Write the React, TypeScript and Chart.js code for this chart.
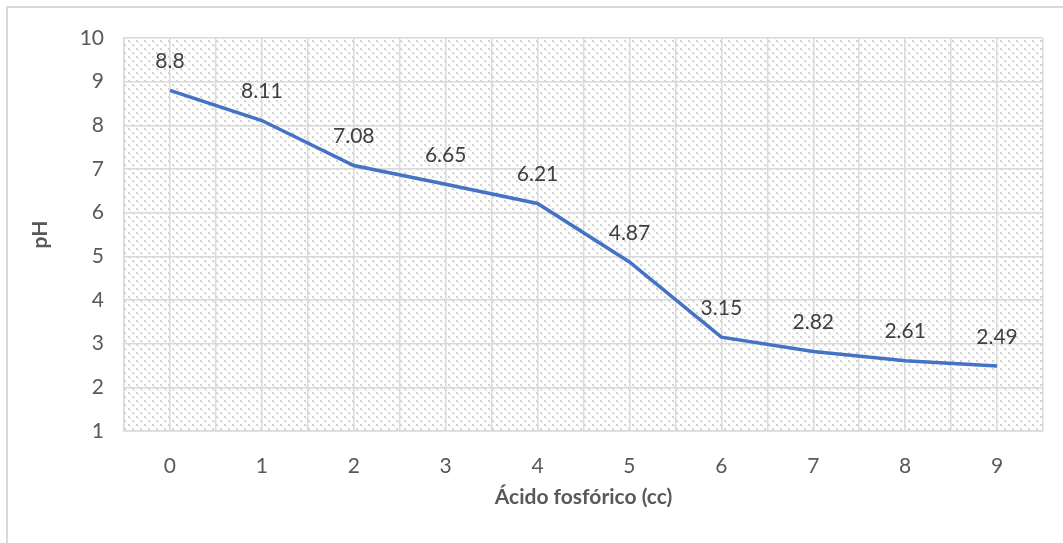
import React, { useEffect, useRef } from "react";
import { Chart, registerables } from "chart.js";

Chart.register(...registerables);

// Phosphoric acid added (cc) and the measured pH
const acidVolumes = [0, 1, 2, 3, 4, 5, 6, 7, 8, 9];
const phValues = [8.8, 8.11, 7.08, 6.65, 6.21, 4.87, 3.15, 2.82, 2.61, 2.49];
const phLabels = ["8.8", "8.11", "7.08", "6.65", "6.21", "4.87", "3.15", "2.82", "2.61", "2.49"];

const FONT = "Lato, 'Open Sans', sans-serif";
const GRID = "#d9d9d9";

function makeHatch(ctx: CanvasRenderingContext2D): CanvasPattern | string {
  const tile = document.createElement("canvas");
  tile.width = 8;
  tile.height = 8;
  const c = tile.getContext("2d");
  if (!c) return "#ffffff";
  c.fillStyle = "#ffffff";
  c.fillRect(0, 0, 8, 8);
  // light dotted downward diagonals
  c.fillStyle = "#d3d3d3";
  c.fillRect(0, 0, 2, 2);
  c.fillRect(2, 2, 1, 1);
  c.fillRect(4, 4, 2, 2);
  c.fillRect(6, 6, 1, 1);
  const p = ctx.createPattern(tile, "repeat");
  return p ?? "#ffffff";
}

const hatchBackground = {
  id: "hatchBackground",
  beforeDraw(chart: any) {
    const { ctx, chartArea } = chart;
    if (!chartArea) return;
    ctx.save();
    ctx.fillStyle = makeHatch(ctx);
    ctx.fillRect(chartArea.left, chartArea.top, chartArea.right - chartArea.left, chartArea.bottom - chartArea.top);
    ctx.restore();
  },
};

const valueLabels = {
  id: "valueLabels",
  afterDatasetsDraw(chart: any) {
    const { ctx } = chart;
    const meta = chart.getDatasetMeta(0);
    ctx.save();
    ctx.font = `21px ${FONT}`;
    ctx.fillStyle = "#404040";
    ctx.textAlign = "center";
    ctx.textBaseline = "middle";
    meta.data.forEach((pt: any, i: number) => {
      ctx.fillText(phLabels[i], pt.x, pt.y - 29);
    });
    ctx.restore();
  },
};

export default function App() {
  const canvasRef = useRef<HTMLCanvasElement>(null);

  useEffect(() => {
    if (!canvasRef.current) return;
    const chart = new Chart(canvasRef.current, {
      type: "line",
      data: {
        datasets: [
          {
            data: acidVolumes.map((x, i) => ({ x, y: phValues[i] })),
            borderColor: "#4472C4",
            borderWidth: 3.5,
            pointRadius: 0,
            tension: 0,
            fill: false,
          },
        ],
      },
      options: {
        animation: false,
        responsive: false,
        layout: { padding: { left: 0, top: 38, right: 20, bottom: 0 } },
        plugins: { legend: { display: false }, tooltip: { enabled: false } },
        scales: {
          x: {
            type: "linear",
            min: -0.5,
            max: 9.5,
            afterFit: (s: any) => {
              s.height = 112;
              s.paddingLeft = 0;
              s.paddingRight = 0;
            },
            afterBuildTicks: (s: any) => {
              const t = [];
              for (let v = -0.5; v <= 9.5001; v += 0.5) t.push({ value: v });
              s.ticks = t;
            },
            ticks: {
              autoSkip: false,
              maxRotation: 0,
              padding: 23,
              color: "#595959",
              font: { family: FONT, size: 21 },
              callback: (v: any) => (Number.isInteger(v) ? String(acidVolumes[v]) : ""),
            },
            grid: { color: GRID, lineWidth: 1.5, drawTicks: false },
            border: { color: GRID, width: 1.5 },
            title: {
              display: true,
              text: "Ácido fosfórico (cc)",
              color: "#595959",
              font: { family: FONT, size: 21, weight: "bold" },
              padding: { bottom: 33 },
            },
          },
          y: {
            min: 1,
            max: 10,
            afterFit: (s: any) => {
              s.width = 124;
            },
            ticks: {
              stepSize: 1,
              padding: 20,
              color: "#595959",
              font: { family: FONT, size: 21 },
            },
            grid: { color: GRID, lineWidth: 1.5, drawTicks: false },
            border: { color: GRID, width: 1.5 },
            title: {
              display: true,
              text: "pH",
              color: "#595959",
              font: { family: FONT, size: 21, weight: "bold" },
              padding: { top: 28 },
            },
          },
        },
      },
      plugins: [hatchBackground, valueLabels],
    });
    return () => chart.destroy();
  }, []);

  return (
    <div style={{ position: "fixed", left: 0, top: 0, width: 1063, height: 543, background: "#fff", overflow: "hidden" }}>
      <div
        style={{
          position: "absolute",
          left: 6,
          top: 6,
          width: 1200,
          height: 700,
          borderTop: "2px solid #d9d9d9",
          borderLeft: "2px solid #d9d9d9",
        }}
      />
      <canvas ref={canvasRef} width={1063} height={543} style={{ position: "absolute", left: 0, top: 0 }} />
    </div>
  );
}
